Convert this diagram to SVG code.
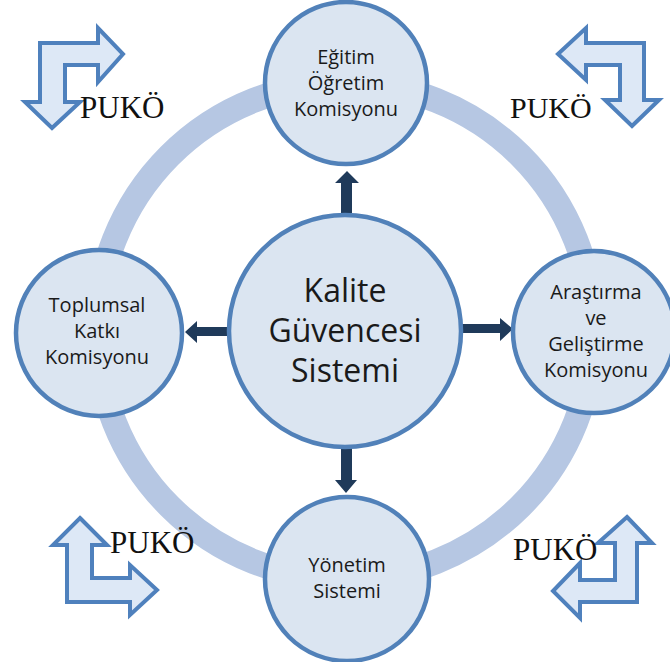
<svg xmlns="http://www.w3.org/2000/svg" width="670" height="662" viewBox="0 0 670 662">
<style>
.node{fill:#dbe5f1;stroke:#5181b9;stroke-width:4.5}
.lbl{font-family:"Open Sans","Liberation Sans",sans-serif;font-size:20px;fill:#1a1a1a;text-anchor:middle}
.big{font-family:"Open Sans","Liberation Sans",sans-serif;font-size:32px;fill:#1a1a1a;text-anchor:middle}
.bent{fill:#dde8f6;stroke:#4f81bd;stroke-width:4;stroke-linejoin:miter}
.puko{font-family:"Liberation Serif","Times New Roman",serif;font-size:31px;fill:#111}
.conn{fill:#1f3a5a}
</style>
<rect width="670" height="662" fill="#ffffff"/>
<g id="ring">
<circle cx="345" cy="331" r="248" fill="none" stroke="#b6c7e3" stroke-width="25"/>
</g>
<g id="puko-tl">
<polygon class="bent" points="52,128 80,102 65,102 65,65 98,65 98,82 123,54 98,28 98,43 40,43 40,102 25,102"/>
<text class="puko" x="80" y="118">PUKÖ</text>
</g>
<g id="puko-tr">
<polygon class="bent" points="632,126 659,100 644,100 644,43 586,43 586,28 558,54 586,80 586,65 620,65 620,100 605,100"/>
<text class="puko" x="510" y="118" style="font-size:30px">PUKÖ</text>
</g>
<g id="puko-bl">
<polygon class="bent" points="80,518 107,545 92,545 92,578 130,578 130,565 157,590 130,615 130,602 67,602 67,545 53,545"/>
<text class="puko" x="110" y="553">PUKÖ</text>
</g>
<g id="puko-br">
<polygon class="bent" points="627,517 652,543 637,543 637,602 580,602 580,618 553,591 580,563 580,580 615,580 615,543 598,543"/>
<text class="puko" x="513" y="560">PUKÖ</text>
</g>
<g id="connectors">
<polygon class="conn" points="341,213 341,183 335,183 347,171 359,183 352,183 352,213"/>
<polygon class="conn" points="341,447 341,480 335,480 346,493 357,480 352,480 352,447"/>
<polygon class="conn" points="228,327 197,327 197,321 185,332 197,343 197,336 228,336"/>
<polygon class="conn" points="462,324 500,324 500,318 513,329 500,341 500,333 462,333"/>
</g>
<g id="node-center">
<circle class="node" cx="345" cy="331" r="116"/>
<text class="big" x="345" y="302">Kalite</text>
<text class="big" x="345" y="342">Güvencesi</text>
<text class="big" x="345" y="382">Sistemi</text>
</g>
<g id="node-egitim">
<circle class="node" cx="346" cy="83" r="81"/>
<text class="lbl" x="346" y="64">Eğitim</text>
<text class="lbl" x="346" y="90">Öğretim</text>
<text class="lbl" x="346" y="116">Komisyonu</text>
</g>
<g id="node-toplumsal">
<circle class="node" cx="99" cy="333" r="83"/>
<text class="lbl" x="97" y="312">Toplumsal</text>
<text class="lbl" x="97" y="338">Katkı</text>
<text class="lbl" x="97" y="364">Komisyonu</text>
</g>
<g id="node-arastirma">
<circle class="node" cx="594" cy="332" r="81"/>
<text class="lbl" x="596" y="299">Araştırma</text>
<text class="lbl" x="596" y="325">ve</text>
<text class="lbl" x="596" y="351">Geliştirme</text>
<text class="lbl" x="596" y="377">Komisyonu</text>
</g>
<g id="node-yonetim">
<circle class="node" cx="347" cy="579" r="82"/>
<text class="lbl" x="347" y="572">Yönetim</text>
<text class="lbl" x="347" y="598">Sistemi</text>
</g>
</svg>
